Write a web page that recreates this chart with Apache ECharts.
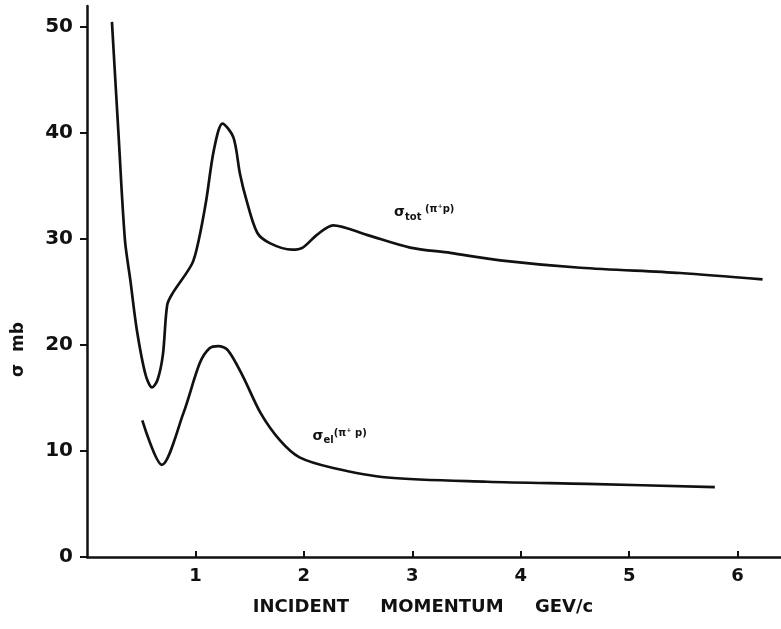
<!DOCTYPE html>
<html>
<head>
<meta charset="utf-8">
<script src="https://cdn.jsdelivr.net/npm/echarts@6/dist/echarts.min.js"></script>
<style>
  html, body { margin: 0; padding: 0; background: #fff; }
  #chart { width: 781px; height: 629px; }
</style>
</head>
<body>
<div id="chart"></div>
<script>
// sigma_tot(pi+ p) - momentum (GeV/c), cross section (mb)
const totMomentum = [0.23, 0.29, 0.35, 0.40, 0.46, 0.54, 0.60, 0.65, 0.70, 0.74, 0.79, 0.97, 1.03, 1.10, 1.17, 1.25, 1.35, 1.41, 1.47, 1.57, 1.69, 1.89, 1.99, 2.12, 2.27, 2.58, 2.98, 3.35, 3.81, 4.55, 5.47, 6.23];
const totSigma    = [50.5, 40.0, 29.9, 26.1, 21.4, 17.2, 16.0, 16.7, 19.1, 23.8, 24.9, 27.7, 29.9, 33.7, 38.4, 40.9, 39.6, 36.2, 33.7, 30.6, 29.6, 29.0, 29.2, 30.4, 31.3, 30.4, 29.2, 28.7, 28.0, 27.3, 26.8, 26.2];

// sigma_el(pi+ p)
const elMomentum = [0.51, 0.69, 0.89, 1.04, 1.13, 1.21, 1.30, 1.44, 1.60, 1.78, 1.96, 2.27, 2.77, 3.69, 4.61, 5.79];
const elSigma    = [12.9, 8.7, 13.6, 18.3, 19.7, 19.9, 19.5, 17.0, 13.6, 11.0, 9.4, 8.4, 7.5, 7.1, 6.9, 6.6];

const xTicks = [1, 2, 3, 4, 5, 6];
const yTicks = [0, 10, 20, 30, 40, 50];

const toPairs = (xs, ys) => xs.map((x, i) => [x, ys[i]]);

const font = 'DejaVu Sans';
const ink = '#111';
const chart = echarts.init(document.getElementById('chart'));

const curveLabelRich = {
  s: { fontFamily: font, fontWeight: 'bold', fontSize: 14, color: ink },
  sub: { fontFamily: font, fontWeight: 'bold', fontSize: 10, color: ink, padding: [9, 0, 0, 0] },
  sup: { fontFamily: font, fontWeight: 'bold', fontSize: 10, color: ink, padding: [0, 0, 6, 0] }
};

chart.setOption({
  animation: false,
  backgroundColor: '#fff',
  grid: { left: 87, right: 0, top: 6, bottom: 72 },
  graphic: [{
    type: 'text',
    left: 10,
    top: 322,
    rotation: Math.PI / 2,
    style: { text: 'σ  mb', fontFamily: font, fontWeight: 'bold', fontSize: 17, fill: ink }
  }],
  xAxis: {
    type: 'value',
    min: 0,
    max: 6.4,
    name: 'INCIDENT     MOMENTUM     GEV/c',
    nameLocation: 'middle',
    nameGap: 41,
    nameTextStyle: { fontFamily: font, fontWeight: 'bold', fontSize: 18, color: ink, padding: [0, 22, 0, 0] },
    splitLine: { show: false },
    axisLine: { lineStyle: { color: ink, width: 2.5 } },
    axisTick: { inside: true, length: 6, customValues: xTicks, lineStyle: { color: ink, width: 2 } },
    axisLabel: { customValues: xTicks, margin: 10, fontFamily: font, fontWeight: 'bold', fontSize: 18, color: ink }
  },
  yAxis: {
    type: 'value',
    min: 0,
    max: 52,
    splitLine: { show: false },
    axisLine: { show: true, lineStyle: { color: ink, width: 2.5 } },
    axisTick: { show: true, length: 7, customValues: yTicks, lineStyle: { color: ink, width: 2 } },
    axisLabel: { customValues: yTicks, margin: 14, fontFamily: font, fontWeight: 'bold', fontSize: 20, color: ink }
  },
  series: [
    {
      name: 'tot',
      type: 'line',
      data: toPairs(totMomentum, totSigma),
      smooth: 0.3,
      symbol: 'none',
      lineStyle: { color: ink, width: 2.7 },
      markPoint: {
        symbolSize: 0,
        data: [{ coord: [3.11, 32.5] }],
        label: { show: true, formatter: '{s|σ}{sub|tot}{sup| (π⁺p)}', rich: curveLabelRich }
      }
    },
    {
      name: 'el',
      type: 'line',
      data: toPairs(elMomentum, elSigma),
      smooth: 0.3,
      symbol: 'none',
      lineStyle: { color: ink, width: 2.7 },
      markPoint: {
        symbolSize: 0,
        data: [{ coord: [2.33, 11.4] }],
        label: { show: true, formatter: '{s|σ}{sub|el}{sup|(π⁺ p)}', rich: curveLabelRich }
      }
    }
  ]
});

window.onresize = function () {
  chart.resize();
};
</script>
</body>
</html>
